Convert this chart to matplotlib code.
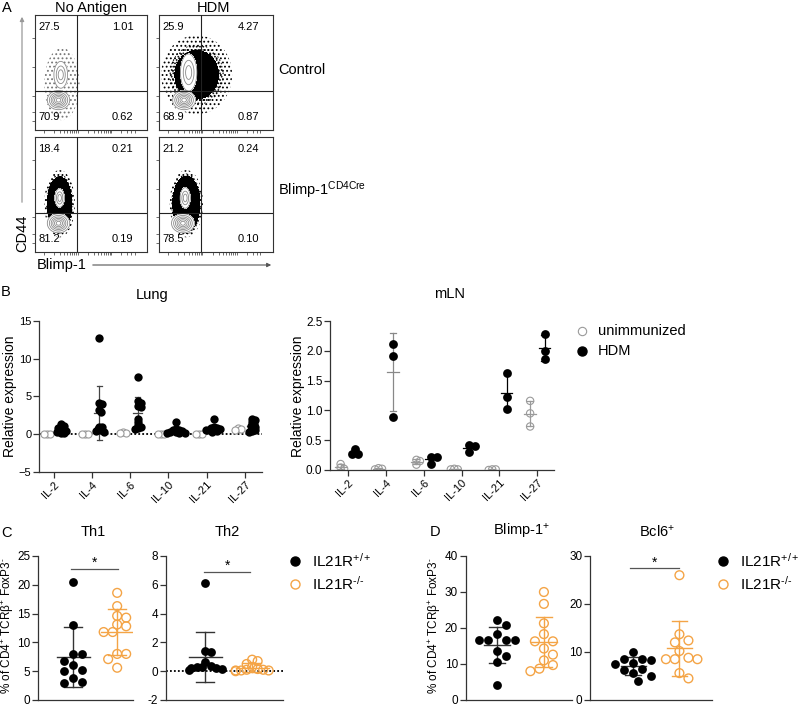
import numpy as np
import matplotlib
matplotlib.use('Agg')
import matplotlib.pyplot as plt
from matplotlib.lines import Line2D
from matplotlib.patches import FancyArrowPatch

plt.rcParams['font.family'] = ['Liberation Sans', 'DejaVu Sans']
plt.rcParams['mathtext.fontset'] = 'custom'
plt.rcParams['mathtext.rm'] = 'Liberation Sans'
plt.rcParams['mathtext.it'] = 'Liberation Sans:italic'
plt.rcParams['mathtext.bf'] = 'Liberation Sans:bold'
plt.rcParams['mathtext.default'] = 'regular'
plt.rcParams['hatch.linewidth'] = 0.8

W, H = 799, 708
orange = '#F4A446'
axcol = '#333333'
gray = '#9a9a9a'

# ---------------- data ----------------
# A: flow quadrant percentages [row][col] -> (UL, UR, LL, LR)
flow_rows = ['Control', r'Blimp-1$^{\mathrm{CD4Cre}}$']
flow_cols = ['No Antigen', 'HDM']
flow_pct = [[['27.5', '1.01', '70.9', '0.62'], ['25.9', '4.27', '68.9', '0.87']],
            [['18.4', '0.21', '81.2', '0.19'], ['21.2', '0.24', '78.5', '0.10']]]
# contoured populations (cx, cy, sx, sy) in axis fractions: [naive CD44lo, CD44hi]
flow_pops = [[[(0.21, 0.26, 0.054, 0.045), (0.23, 0.48, 0.034, 0.065)],
              [(0.22, 0.26, 0.054, 0.045), (0.26, 0.50, 0.040, 0.090)]],
             [[(0.21, 0.25, 0.054, 0.045), (0.22, 0.47, 0.024, 0.045)],
              [(0.21, 0.25, 0.054, 0.045), (0.23, 0.47, 0.025, 0.050)]]]
# outlier dot cloud (cx, cy, sx, sy, dotted level, black level)
flow_cloud = [[(0.24, 0.40, 0.085, 0.17, 0.18, 2.0), (0.33, 0.48, 0.145, 0.16, 0.10, 0.42)],
              [(0.22, 0.42, 0.070, 0.15, 0.15, 0.30), (0.24, 0.42, 0.075, 0.15, 0.15, 0.28)]]
flow_vline = [0.375, 0.368]
flow_hline = [0.34, 0.34]

# B: relative expression
cytokines = ['IL-2', 'IL-4', 'IL-6', 'IL-10', 'IL-21', 'IL-27']
lung_unimm = [[0.0, 0.0, 0.0], [0.0, 0.0, 0.0], [0.25, 0.2, 0.2],
              [0.0, 0.0, 0.0], [0.0, 0.0, 0.0], [0.85, 0.7, 0.6]]
lung_hdm = [[1.3, 1.1, 0.9, 0.8, 0.6, 0.5, 0.4, 0.3, 0.2, 0.1],
            [12.7, 4.2, 4.0, 3.2, 2.9, 1.0, 0.9, 0.7, 0.5, 0.4, 0.3],
            [7.6, 4.4, 4.2, 3.8, 3.6, 2.0, 1.6, 1.2, 1.0, 0.8, 0.7],
            [1.6, 0.7, 0.5, 0.5, 0.4, 0.3, 0.3, 0.2, 0.2, 0.1],
            [2.0, 1.0, 0.8, 0.8, 0.7, 0.6, 0.5, 0.5, 0.4, 0.3],
            [2.0, 1.9, 1.6, 1.3, 1.1, 1.0, 0.8, 0.6, 0.4, 0.3]]
mln_unimm = [[0.10, 0.04, 0.02], [0.03, 0.02, 0.01], [0.17, 0.15, 0.09],
             [0.02, 0.01, 0.01], [0.01, 0.01, 0.0], [1.16, 0.95, 0.73]]
mln_hdm = [[0.35, 0.27, 0.27], [2.12, 1.91, 0.89], [0.22, 0.21, 0.10],
           [0.42, 0.40, 0.30], [1.62, 1.23, 1.02], [2.29, 1.99, 1.86]]

# C / D: % of CD4+ TCRb+ FoxP3-
groups = [r'IL21R$^{+/+}$', r'IL21R$^{\text{-/-}}$']
th1_wt = [20.5, 13.1, 8.0, 7.9, 6.8, 6.0, 5.2, 5.1, 3.8, 3.1, 3.0]
th1_ko = [18.6, 16.3, 14.6, 14.3, 13.1, 12.8, 11.8, 11.8, 8.0, 8.0, 7.1, 5.6]
th2_wt = [6.1, 1.4, 1.3, 0.65, 0.35, 0.3, 0.3, 0.25, 0.2, 0.15, 0.1]
th2_ko = [0.8, 0.7, 0.5, 0.3, 0.15, 0.1, 0.1, 0.05, 0.05, 0.05, 0.0]
blimp_wt = [22.3, 20.7, 18.3, 16.8, 16.8, 16.8, 16.7, 13.6, 12.2, 10.6, 4.1]
blimp_ko = [30.0, 26.7, 21.3, 18.3, 16.3, 16.3, 14.3, 12.6, 11.0, 9.7, 8.7, 8.0]
bcl6_wt = [10.0, 8.6, 8.5, 8.3, 7.7, 7.5, 6.4, 6.2, 5.6, 5.1, 4.0]
bcl6_ko = [26.0, 13.7, 12.4, 12.0, 10.2, 8.8, 8.5, 8.5, 8.5, 5.6, 4.5]

fig = plt.figure(figsize=(W / 100, H / 100), dpi=100)


def px_axes(x0, y0, x1, y1):
    return fig.add_axes([x0 / W, 1 - y1 / H, (x1 - x0) / W, (y1 - y0) / H])


def ftxt(x, y, s, **kw):
    kw.setdefault('ha', 'center')
    kw.setdefault('va', 'center')
    fig.text(x / W, 1 - y / H, s, **kw)


def fmark(x, y, **kw):
    fig.add_artist(Line2D([x / W], [1 - y / H], transform=fig.transFigure, ls='none', **kw))


def prism(ax, lw=0.9, size=8.5):
    for s in ['top', 'right']:
        ax.spines[s].set_visible(False)
    for s in ['left', 'bottom']:
        ax.spines[s].set_color(axcol)
        ax.spines[s].set_linewidth(lw)
    ax.tick_params(color=axcol, width=lw, length=4, labelsize=size, pad=1.5)


def swarm(vals, ax, d_px, fac=0.9):
    # horizontal offsets (data units) so markers of d_px pixels do not overlap
    bb = ax.get_position()
    x0, x1 = ax.get_xlim()
    y0, y1 = ax.get_ylim()
    sx = bb.width * W / (x1 - x0)
    sy = bb.height * H / (y1 - y0)
    v = np.asarray(vals, float)
    offs = np.zeros(len(v))
    placed = []
    for i in np.argsort(-v, kind='stable'):
        yp = v[i] * sy
        xp = 0.0
        for k in [0, 1, -1, 2, -2, 3, -3, 4, -4, 5, -5, 6, -6]:
            xp = k * d_px * 0.5
            if all((xp - a) ** 2 + (yp - b) ** 2 >= (fac * d_px) ** 2 for a, b in placed):
                break
        placed.append((xp, yp))
        offs[i] = xp / sx
    return offs


def mean_sd(ax, x, vals, color, mean_w, cap_w, lw=1.0):
    m = np.mean(vals)
    s = np.std(vals, ddof=1)
    ax.plot([x - mean_w / 2, x + mean_w / 2], [m, m], color=color, lw=lw, zorder=2)
    ax.plot([x, x], [m - s, m + s], color=color, lw=lw, zorder=2)
    for e in (m - s, m + s):
        ax.plot([x - cap_w / 2, x + cap_w / 2], [e, e], color=color, lw=lw, zorder=2)


def gauss(X, Y, cx, cy, sx_, sy_):
    return np.exp(-((X - cx) ** 2 / (2 * sx_ ** 2) + (Y - cy) ** 2 / (2 * sy_ ** 2)))


# ---------------- A: flow plots ----------------
boxes = [[(35, 15, 147, 130), (159, 15, 273, 130)],
         [(35, 137, 147, 252), (159, 137, 273, 252)]]
gx = np.linspace(0, 1, 300)
GX, GY = np.meshgrid(gx, gx)
dec = np.log10(np.arange(1, 10))
flow_xt = np.concatenate([0.08 + 0.3 * dec, 0.38 + 0.3 * dec, 0.68 + 0.3 * dec[:5]])
flow_yt = [0.08, 0.16, 0.30, 0.55, 0.80]
for r in range(2):
    for c in range(2):
        ax = px_axes(*boxes[r][c])
        cx, cy, sx_, sy_, lv_dot, lv_black = flow_cloud[r][c]
        Zc = gauss(GX, GY, cx, cy, sx_, sy_)
        for p in flow_pops[r][c]:
            Zc = np.maximum(Zc, 0.9 * gauss(GX, GY, *p))
        hcol = '#777777' if (r, c) == (0, 0) else 'black'
        with plt.rc_context({'hatch.color': hcol}):
            ax.contourf(GX, GY, Zc, levels=[lv_dot, min(lv_black, 1.0)], colors='none', hatches=['....'])
            if lv_black < 1:
                mid = (lv_dot + lv_black) / 2
                ax.contourf(GX, GY, Zc, levels=[mid, lv_black], colors='none', hatches=['.....'])
        if lv_black < 1:
            ax.contourf(GX, GY, Zc, levels=[lv_black, 2.0], colors='black')
        for k, p in enumerate(flow_pops[r][c]):
            Zp = gauss(GX, GY, *p)
            lv = [0.18, 0.32, 0.48, 0.64, 0.8, 0.93] if k == 0 else [0.2, 0.5, 0.8]
            ax.contourf(GX, GY, Zp, levels=[lv[0], 2.0], colors='white', zorder=2)
            ax.contour(GX, GY, Zp, levels=lv, colors='#8a8a8a', linewidths=0.6, zorder=3)
        ax.axvline(flow_vline[c], color='#222222', lw=0.8, zorder=4)
        ax.axhline(flow_hline[r], color='#222222', lw=0.8, zorder=4)
        ax.set_xlim(0, 1)
        ax.set_ylim(0, 1)
        for s in ax.spines.values():
            s.set_color(axcol)
            s.set_linewidth(0.8)
        ax.set_xticks(flow_xt)
        ax.set_yticks(flow_yt)
        ax.tick_params(length=2, width=0.6, color='#555555', labelbottom=False, labelleft=False)
        ul, ur, ll, lr = flow_pct[r][c]
        kw = dict(transform=ax.transAxes, fontsize=8, va='center', zorder=5)
        ax.text(0.03, 0.9, ul, ha='left', **kw)
        ax.text(0.88, 0.9, ur, ha='right', **kw)
        ax.text(0.03, 0.11, ll, ha='left', **kw)
        ax.text(0.88, 0.11, lr, ha='right', **kw)

ftxt(7, 8, 'A', fontsize=10.5)
ftxt(91, 8, flow_cols[0], fontsize=10.5)
ftxt(214, 8, flow_cols[1], fontsize=10.5)
ftxt(278, 70, flow_rows[0], fontsize=10.5, ha='left')
ftxt(278, 190, flow_rows[1], fontsize=10.5, ha='left')
ftxt(22, 233, 'CD44', fontsize=10.5, rotation=90)
ftxt(37, 265, 'Blimp-1', fontsize=10.5, ha='left')
fig.add_artist(FancyArrowPatch((22 / W, 1 - 205 / H), (22 / W, 1 - 14 / H), transform=fig.transFigure,
                               arrowstyle='-|>', mutation_scale=6, color='#999999', lw=0.9))
fig.add_artist(FancyArrowPatch((90 / W, 1 - 265 / H), (274 / W, 1 - 265 / H), transform=fig.transFigure,
                               arrowstyle='-|>', mutation_scale=6, color='#555555', lw=0.8))

# ---------------- B: Lung ----------------
ax = px_axes(39, 321, 262, 472)
ax.set_xlim(-0.39, 5.45)
ax.set_ylim(-5, 15)
prism(ax, size=8)
ax.set_yticks([-5, 0, 5, 10, 15])
ax.set_xticks(range(6))
ax.set_xticklabels(cytokines, rotation=45, ha='right', rotation_mode='anchor', fontsize=8)
ax.axhline(0, color='black', ls=(0, (1, 1.2)), lw=1.3, zorder=1)
for i in range(6):
    xu, xh = i - 0.19, i + 0.19
    mean_sd(ax, xu, lung_unimm[i], gray, 0.26, 0.13, 0.9)
    mean_sd(ax, xh, lung_hdm[i], '#444444', 0.26, 0.13, 0.9)
    ou = swarm(lung_unimm[i], ax, 3.0)
    oh = swarm(lung_hdm[i], ax, 3.0)
    ax.scatter(xu + ou, lung_unimm[i], s=26, facecolors='white', edgecolors=gray, linewidths=0.8, zorder=3)
    ax.scatter(xh + oh, lung_hdm[i], s=36, color='black', zorder=4, linewidths=0)
ftxt(152, 295, 'Lung', fontsize=10.5)
ftxt(10, 396, 'Relative expression', fontsize=10, rotation=90)
ftxt(6, 292, 'B', fontsize=10.5)

# ---------------- B: mLN ----------------
ax = px_axes(330, 321, 554, 470)
ax.set_xlim(-0.47, 5.44)
ax.set_ylim(0, 2.5)
prism(ax, size=8.5)
ax.set_yticks([0, 0.5, 1.0, 1.5, 2.0, 2.5])
ax.set_yticklabels(['0.0', '0.5', '1.0', '1.5', '2.0', '2.5'])
ax.set_xticks(range(6))
ax.set_xticklabels(cytokines, rotation=45, ha='right', rotation_mode='anchor', fontsize=8)
mln_err = ['black', '#888888', 'black', 'black', 'black', 'black']
for i in range(6):
    xu, xh = i - 0.19, i + 0.19
    mean_sd(ax, xu, mln_unimm[i], gray, 0.3, 0.16, 0.9)
    mean_sd(ax, xh, mln_hdm[i], mln_err[i], 0.3, 0.16, 0.9)
    ou = swarm(mln_unimm[i], ax, 3.5)
    oh = swarm(mln_hdm[i], ax, 6.0)
    ax.scatter(xu + ou, mln_unimm[i], s=28, facecolors='none', edgecolors=gray, linewidths=0.8, zorder=3)
    ax.scatter(xh + oh, mln_hdm[i], s=40, color='black', zorder=4, linewidths=0)
ftxt(450, 294, 'mLN', fontsize=10.5)
ftxt(298, 396, 'Relative expression', fontsize=10, rotation=90)
fmark(582, 331, marker='o', ms=6, mfc='none', mec=gray, mew=0.8)
fmark(582, 351, marker='o', ms=6.5, mfc='black', mec='black')
ftxt(598, 331, 'unimmunized', fontsize=10.5, ha='left')
ftxt(598, 351, 'HDM', fontsize=10.5, ha='left')


# ---------------- C / D ----------------
def group_plot(box, xlim, ylim, yticks, wt, ko, mean_w, cap_w, zero_line=False, d=9):
    ax = px_axes(*box)
    ax.set_xlim(*xlim)
    ax.set_ylim(*ylim)
    prism(ax, size=8.5)
    ax.set_yticks(yticks)
    ax.set_xticks([])
    if zero_line:
        ax.axhline(0, color='black', ls=(0, (1, 1.2)), lw=1.3, zorder=1)
    mean_sd(ax, 0, wt, '#333333', mean_w, cap_w, 1.0)
    mean_sd(ax, 1, ko, orange, mean_w, cap_w, 1.0)
    ax.scatter(swarm(wt, ax, d, 0.95), wt, s=40, color='black', linewidths=0, zorder=4)
    ax.scatter(1 + swarm(ko, ax, d, 0.95), ko, s=40, facecolors='none', edgecolors=orange,
               linewidths=1.0, zorder=4)
    return ax


def sig(ax, x0, x1, y, ystar):
    ax.plot([x0, x1], [y, y], color='#555555', lw=0.9, clip_on=False)
    ax.text((x0 + x1) / 2, ystar, '*', ha='center', va='center', fontsize=10)


yb = 700
ax = group_plot((38, 556, 133, yb), (-0.8, 1.36), (0, 25), range(0, 26, 5), th1_wt, th1_ko, 0.75, 0.41)
sig(ax, -0.05, 1.02, 22.75, 23.9)
ax = group_plot((165.7, 556, 282.7, yb), (-0.84, 1.65), (-2, 8), range(-2, 9, 2), th2_wt, th2_ko,
                0.7, 0.38, zero_line=True, d=5.5)
ax.set_yticklabels(['-2', '0', '2', '4', '6', '8'])
sig(ax, -0.02, 0.96, 6.86, 7.3)
ftxt(6, 533, 'C', fontsize=10.5)
ftxt(93, 532, 'Th1', fontsize=10.5)
ftxt(227, 532, 'Th2', fontsize=10.5)
ylab = r'% of CD4$^{+}$ TCRβ$^{+}$ FoxP3$^{\text{-}}$'
ftxt(8, 626, ylab, fontsize=8.5, rotation=90)

ax = group_plot((465.7, 556, 571.7, yb), (-0.66, 1.59), (0, 40), range(0, 41, 10), blimp_wt, blimp_ko,
                0.55, 0.34)
ax = group_plot((590, 556, 711.7, yb), (-0.94, 1.70), (0, 30), range(0, 31, 10), bcl6_wt, bcl6_ko,
                0.55, 0.34)
sig(ax, -0.07, 1.0, 27.5, 28.6)
ftxt(435, 532, 'D', fontsize=10.5)
ftxt(522, 532, 'Blimp-1$^{+}$', fontsize=10.5)
ftxt(657, 532, 'Bcl6$^{+}$', fontsize=10.5)
ftxt(435, 626, ylab, fontsize=8.5, rotation=90)

# legends C and D
for lx in (295, 723):
    fmark(lx, 561, marker='o', ms=6.5, mfc='black', mec='black')
    fmark(lx, 584, marker='o', ms=6.5, mfc='none', mec=orange, mew=1.0)
    ftxt(lx + 17, 561, groups[0], fontsize=11, ha='left')
    ftxt(lx + 17, 584, groups[1], fontsize=11, ha='left')

fig.savefig('out.png', dpi=100)
